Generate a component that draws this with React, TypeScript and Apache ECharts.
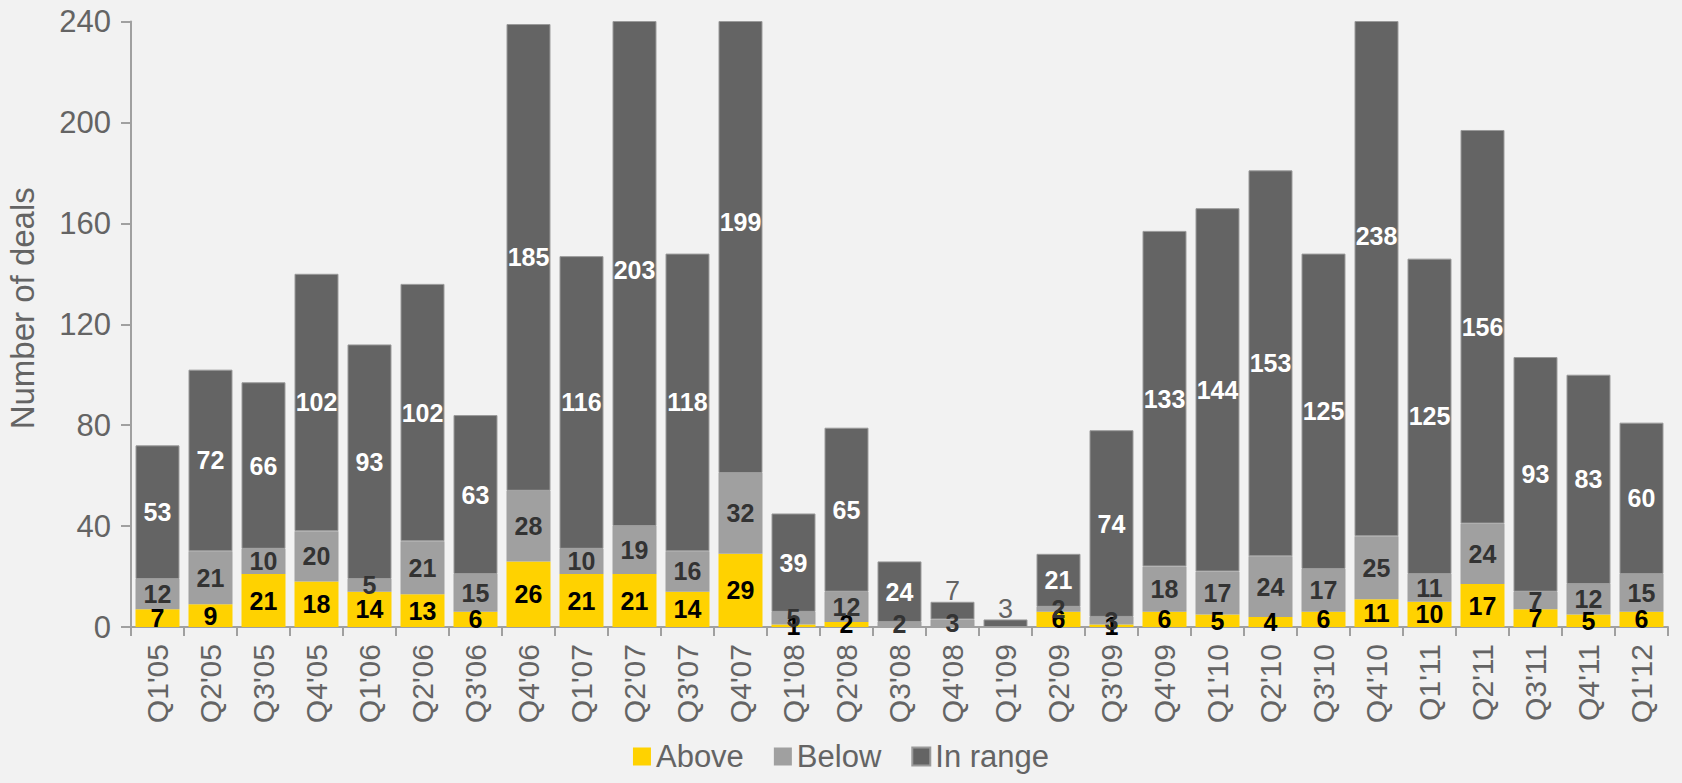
import React, { useEffect, useRef } from "react";
import * as echarts from "echarts";

const categories = [
  "Q1'05", "Q2'05", "Q3'05", "Q4'05", "Q1'06", "Q2'06", "Q3'06", "Q4'06",
  "Q1'07", "Q2'07", "Q3'07", "Q4'07", "Q1'08", "Q2'08", "Q3'08", "Q4'08",
  "Q1'09", "Q2'09", "Q3'09", "Q4'09", "Q1'10", "Q2'10", "Q3'10", "Q4'10",
  "Q1'11", "Q2'11", "Q3'11", "Q4'11", "Q1'12",
];
const above = [7, 9, 21, 18, 14, 13, 6, 26, 21, 21, 14, 29, 1, 2, 0, 0, 0, 6, 1, 6, 5, 4, 6, 11, 10, 17, 7, 5, 6];
const below = [12, 21, 10, 20, 5, 21, 15, 28, 10, 19, 16, 32, 5, 12, 2, 3, 0, 2, 3, 18, 17, 24, 17, 25, 11, 24, 7, 12, 15];
const inRange = [53, 72, 66, 102, 93, 102, 63, 185, 116, 203, 118, 199, 39, 65, 24, 7, 3, 21, 74, 133, 144, 153, 125, 238, 125, 156, 93, 83, 60];
const yTicks = { min: 0, max: 240, interval: 40 };
// segments whose label sits above the bar (too small to hold it)
const smallInRange = ["Q4'08", "Q1'09"];

const FONT = "'Liberation Sans', Arial, sans-serif";
const GRAY_TEXT = "#646464";

export default function App() {
  const ref = useRef<HTMLDivElement>(null);

  useEffect(() => {
    if (!ref.current) return;
    const chart = echarts.init(ref.current, null, { renderer: "svg" });

    const totals = categories.map((_, i) => above[i] + below[i] + inRange[i]);

    const segLabel = (color: string) => ({
      show: true,
      position: "inside",
      color,
      fontWeight: "bold",
      fontSize: 25,
      fontFamily: FONT,
      formatter: (p: any) => (p.value === 0 ? "" : String(p.value)),
    });

    const inRangeData = inRange.map((v, i) => {
      if (totals[i] > yTicks.max) {
        return { value: v, label: { show: false } };
      }
      if (smallInRange.includes(categories[i])) {
        return {
          value: v,
          label: { position: "top", distance: -3, color: GRAY_TEXT, fontWeight: "normal", fontSize: 27 },
        };
      }
      return v;
    });

    const overflowLabels = inRange.map((v, i) =>
      totals[i] > yTicks.max ? above[i] + below[i] + v / 2 : "-"
    );

    chart.setOption({
      animation: false,
      backgroundColor: "#f2f2f2",
      textStyle: { fontFamily: FONT },
      grid: {
        left: 131,
        right: 14,
        top: 21.5,
        bottom: 156,
        containLabel: false,
        outerBoundsMode: "none",
      },
      legend: {
        data: ["Above", "Below", "In range"],
        bottom: 6,
        left: "center",
        itemWidth: 18,
        itemHeight: 18,
        itemGap: 30,
        icon: "rect",
        textStyle: { fontSize: 31, color: GRAY_TEXT, fontFamily: FONT },
      },
      xAxis: {
        type: "category",
        data: categories,
        axisLine: { show: true, lineStyle: { color: "#a0a0a0", width: 2 } },
        axisTick: { show: true, length: 9, interval: 0, lineStyle: { color: "#a0a0a0", width: 2 } },
        axisLabel: {
          rotate: 90,
          interval: 0,
          margin: 17,
          fontSize: 30,
          color: GRAY_TEXT,
          fontFamily: FONT,
        },
      },
      yAxis: {
        type: "value",
        min: yTicks.min,
        max: yTicks.max,
        interval: yTicks.interval,
        name: "Number of deals",
        nameLocation: "middle",
        nameGap: 92,
        nameTextStyle: { fontSize: 33, color: GRAY_TEXT, fontFamily: FONT, padding: [0, 0, 0, 32] },
        axisLine: { show: true, lineStyle: { color: "#a0a0a0", width: 2 } },
        axisTick: { show: true, length: 10, lineStyle: { color: "#a0a0a0", width: 2 } },
        splitLine: { show: false },
        axisLabel: { fontSize: 31, color: GRAY_TEXT, margin: 20, fontFamily: FONT },
      },
      series: [
        {
          name: "Above",
          type: "bar",
          stack: "deals",
          barCategoryGap: "17%",
          itemStyle: { color: "#ffd200" },
          label: segLabel("#000000"),
          data: above,
        },
        {
          name: "Below",
          type: "bar",
          stack: "deals",
          barCategoryGap: "17%",
          itemStyle: { color: "#a0a0a0" },
          label: segLabel("#333333"),
          data: below,
        },
        {
          name: "In range",
          type: "bar",
          stack: "deals",
          barCategoryGap: "17%",
          itemStyle: { color: "#646464", borderColor: "#9a9a9a", borderWidth: 1 },
          label: segLabel("#ffffff"),
          data: inRangeData,
        },
        {
          name: "overflow-labels",
          type: "scatter",
          symbolSize: 0,
          silent: true,
          z: 5,
          itemStyle: { opacity: 1 },
          label: {
            show: true,
            position: "inside",
            color: "#ffffff",
            fontWeight: "bold",
            fontSize: 25,
            fontFamily: FONT,
            formatter: (p: any) => String(inRange[p.dataIndex]),
          },
          data: overflowLabels,
        },
      ],
    });

    return () => chart.dispose();
  }, []);

  return (
    <div
      ref={ref}
      style={{ position: "fixed", left: 0, top: 0, width: 1682, height: 783 }}
    />
  );
}
